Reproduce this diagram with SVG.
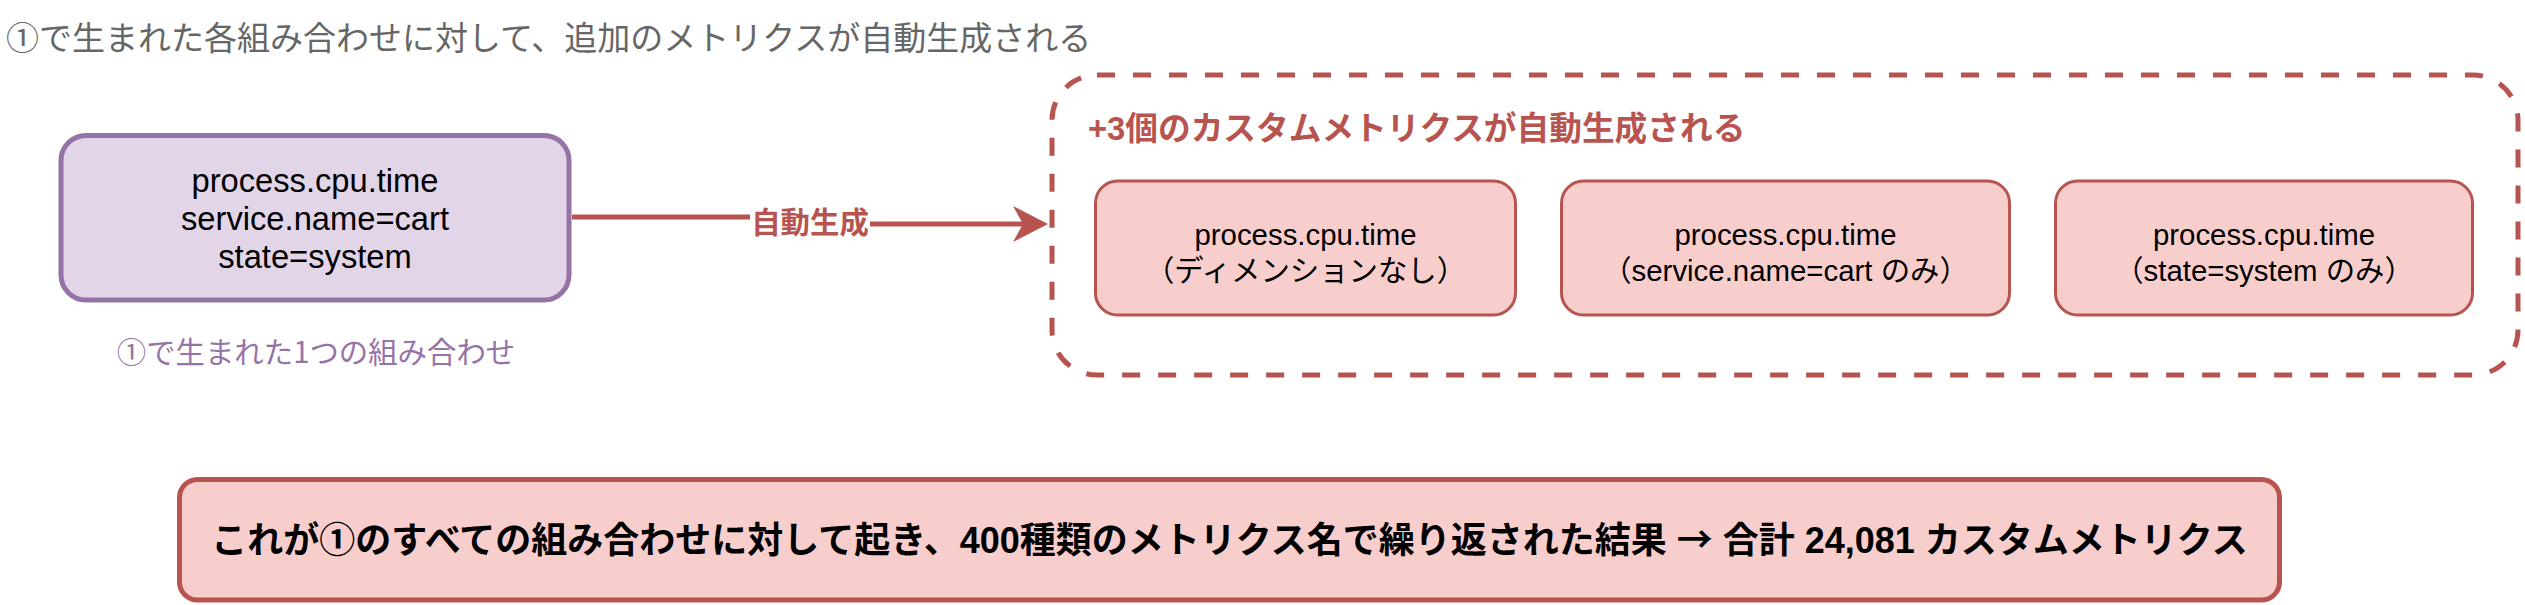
<svg xmlns="http://www.w3.org/2000/svg" width="2525" height="605" viewBox="0 0 2525 605">
  <style>
    text { font-family: "Liberation Sans", "Noto Sans CJK JP", sans-serif; }
    .cjk { font-family: "Noto Sans CJK JP", "Liberation Sans", sans-serif; }
    .purple { fill: #e1d5e7; stroke: #9673a6; stroke-width: 5; }
    .red { fill: #f8cecc; stroke: #b85450; stroke-width: 3; }
    .redthick { fill: #f8cecc; stroke: #b85450; stroke-width: 5; }
    .dash { fill: none; stroke: #b85450; stroke-width: 5; stroke-dasharray: 18 18; }
    .node { font-size: 32.7px; fill: #000; text-anchor: middle; }
    .small { font-size: 29.4px; fill: #000; text-anchor: middle; }
    .edge { fill: none; stroke: #b85450; stroke-width: 5; }
  </style>
  <defs>
    <marker id="arrow" markerUnits="userSpaceOnUse" markerWidth="36" markerHeight="36" refX="10" refY="18" orient="auto">
      <path d="M0,0 L35,18 L0,36 L10,18 Z" fill="#b85450"/>
    </marker>
  </defs>

  <g id="title">
    <text class="cjk" x="6" y="50" font-size="33" fill="#666666">①で生まれた各組み合わせに対して、追加のメトリクスが自動生成される</text>
  </g>

  <g id="source">
    <rect class="purple" x="61" y="135.5" width="508" height="164.5" rx="25" ry="25"/>
    <text class="node" x="315" y="192">process.cpu.time</text>
    <text class="node" x="315" y="230">service.name=cart</text>
    <text class="node" x="315" y="268">state=system</text>
  </g>
  <g id="source-label">
    <text class="cjk" x="316" y="363" font-size="29.4" fill="#9673a6" text-anchor="middle">①で生まれた1つの組み合わせ</text>
  </g>

  <g id="connectors">
    <path class="edge" d="M572,217 H810 V224 H1023" marker-end="url(#arrow)"/>
    <rect x="750" y="205" width="120" height="36" fill="#ffffff"/>
    <text class="cjk" x="810" y="233" font-size="29.4" font-weight="bold" fill="#b85450" text-anchor="middle">自動生成</text>
  </g>

  <g id="container">
    <rect class="dash" x="1052" y="75" width="1466" height="300" rx="45" ry="45"/>
    <text x="1088" y="140" font-size="32.7" font-weight="bold" fill="#b85450">+3個のカスタムメトリクスが自動生成される</text>
  </g>

  <g id="metric-none">
    <rect class="red" x="1095.5" y="181" width="420" height="134" rx="22" ry="22"/>
    <text class="small" x="1305.5" y="245">process.cpu.time</text>
    <text class="small" x="1305.5" y="281">（ディメンションなし）</text>
  </g>

  <g id="metric-service">
    <rect class="red" x="1561.5" y="181" width="448" height="134" rx="22" ry="22"/>
    <text class="small" x="1785.5" y="245">process.cpu.time</text>
    <text class="small" x="1785.5" y="281">（service.name=cart のみ）</text>
  </g>

  <g id="metric-state">
    <rect class="red" x="2055.5" y="181" width="417" height="134" rx="22" ry="22"/>
    <text class="small" x="2264" y="245">process.cpu.time</text>
    <text class="small" x="2264" y="281">（state=system のみ）</text>
  </g>

  <g id="summary">
    <rect class="redthick" x="179.5" y="479.5" width="2100" height="120.5" rx="18" ry="18"/>
    <text x="1229.5" y="553" font-size="36" font-weight="bold" fill="#000" text-anchor="middle">これが①のすべての組み合わせに対して起き、400種類のメトリクス名で繰り返された結果 <tspan class="cjk">→</tspan> 合計 24,081 カスタムメトリクス</text>
  </g>
</svg>
